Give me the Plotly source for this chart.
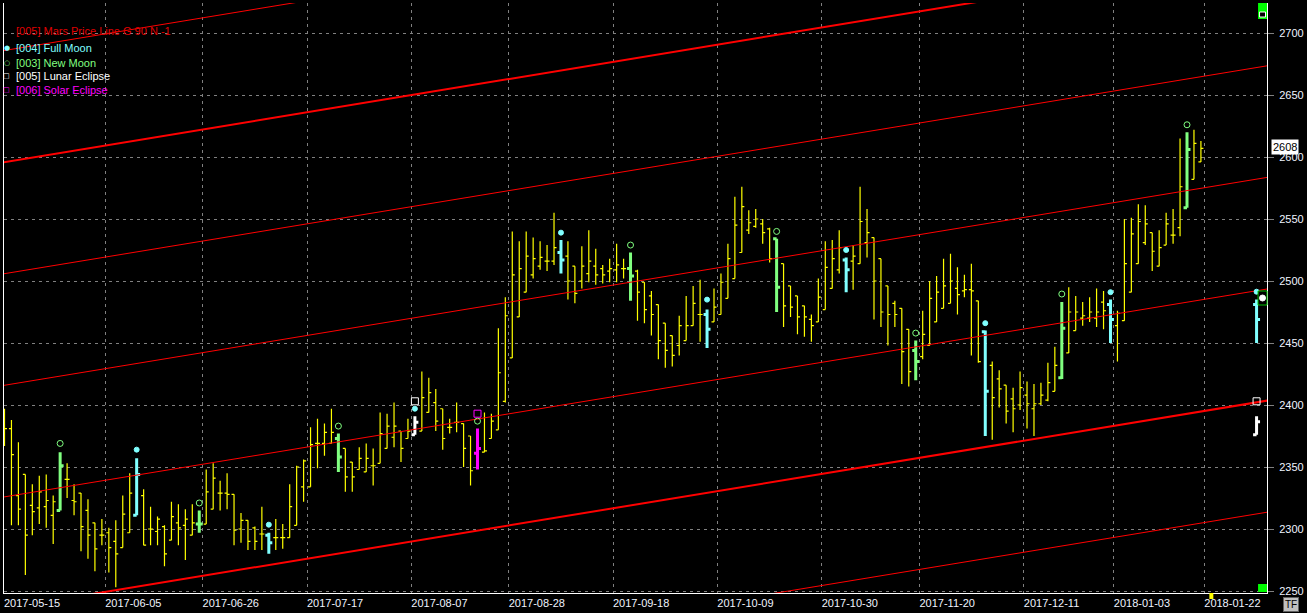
import plotly.graph_objects as go

# daily bars, index 0 = 2017-05-15
opens = [2378, 2381, 2327, 2344, 2319, 2317, 2318, 2311, 2315, 2340,
         2323, 2329, 2315, 2305, 2295, 2297, 2290, 2285, 2297, 2311,
         2327, 2300, 2298, 2302, 2291, 2305, 2303, 2295, 2304, 2304,
         2316, 2329, 2329, 2328, 2300, 2307, 2301, 2296, 2295, 2293,
         2293, 2293, 2303, 2334, 2334, 2369, 2369, 2369, 2373, 2365,
         2354, 2348, 2346, 2351, 2353, 2365, 2374, 2379, 2373, 2376,
         2379, 2394, 2402, 2397, 2382, 2386, 2385, 2375, 2361, 2362,
         2373, 2380, 2403, 2438, 2471, 2491, 2505, 2512, 2516, 2516,
         2523, 2520, 2512, 2500, 2506, 2512, 2510, 2508, 2509, 2510,
         2510, 2508, 2499, 2488, 2481, 2466, 2456, 2448, 2452, 2464,
         2473, 2473, 2467, 2473, 2486, 2502, 2523, 2541, 2544, 2546,
         2542, 2534, 2514, 2496, 2488, 2480, 2469, 2467, 2477, 2494,
         2509, 2517, 2516, 2514, 2531, 2535, 2518, 2496, 2482, 2478,
         2461, 2444, 2439, 2448, 2467, 2478, 2482, 2494, 2492, 2493,
         2484, 2459, 2432, 2421, 2416, 2405, 2400, 2408, 2397, 2401,
         2404, 2411, 2422, 2442, 2460, 2470, 2470, 2470, 2483, 2481,
         2464, 2468, 2491, 2514, 2531, 2539, 2512, 2529, 2537, 2543,
         2559, 2582, 2596]
highs = [2397, 2388, 2370, 2344, 2336, 2343, 2344, 2327, 2362, 2353,
         2336, 2329, 2324, 2305, 2308, 2301, 2307, 2327, 2345, 2357,
         2332, 2318, 2310, 2303, 2322, 2320, 2316, 2320, 2315, 2348,
         2353, 2339, 2345, 2328, 2313, 2307, 2302, 2318, 2297, 2308,
         2304, 2336, 2351, 2356, 2382, 2389, 2385, 2397, 2377, 2365,
         2354, 2366, 2369, 2365, 2394, 2393, 2402, 2379, 2389, 2391,
         2427, 2422, 2413, 2397, 2389, 2402, 2385, 2375, 2381, 2394,
         2393, 2462, 2487, 2540, 2532, 2540, 2535, 2532, 2529, 2555,
         2533, 2532, 2512, 2528, 2541, 2526, 2513, 2518, 2530, 2518,
         2523, 2509, 2499, 2492, 2481, 2466, 2456, 2472, 2488, 2496,
         2501, 2477, 2494, 2506, 2530, 2568, 2576, 2557, 2558, 2550,
         2543, 2534, 2514, 2496, 2488, 2480, 2473, 2502, 2532, 2533,
         2541, 2519, 2529, 2576, 2558, 2535, 2518, 2496, 2484, 2478,
         2461, 2452, 2476, 2500, 2504, 2518, 2522, 2511, 2505, 2514,
         2484, 2460, 2435, 2428, 2416, 2414, 2427, 2419, 2417, 2418,
         2434, 2447, 2483, 2495, 2488, 2483, 2487, 2494, 2492, 2485,
         2476, 2550, 2551, 2562, 2561, 2539, 2541, 2555, 2558, 2615,
         2620, 2622, 2613]
lows = [2367, 2303, 2303, 2263, 2295, 2304, 2301, 2288, 2315, 2325,
        2311, 2282, 2276, 2266, 2287, 2265, 2253, 2285, 2297, 2311,
        2287, 2287, 2287, 2270, 2291, 2287, 2275, 2295, 2297, 2304,
        2316, 2315, 2316, 2287, 2289, 2283, 2283, 2283, 2280, 2283,
        2284, 2293, 2303, 2322, 2334, 2349, 2359, 2369, 2346, 2330,
        2330, 2348, 2346, 2335, 2353, 2365, 2366, 2354, 2373, 2376,
        2379, 2394, 2379, 2364, 2377, 2378, 2350, 2335, 2348, 2362,
        2373, 2380, 2402, 2438, 2471, 2491, 2502, 2509, 2508, 2513,
        2506, 2485, 2482, 2494, 2499, 2497, 2498, 2499, 2499, 2502,
        2484, 2468, 2466, 2456, 2437, 2430, 2431, 2440, 2452, 2464,
        2451, 2446, 2467, 2473, 2486, 2502, 2523, 2538, 2543, 2530,
        2515, 2475, 2463, 2471, 2457, 2455, 2451, 2467, 2477, 2494,
        2506, 2491, 2493, 2514, 2519, 2469, 2463, 2448, 2463, 2417,
        2415, 2420, 2437, 2448, 2467, 2478, 2482, 2473, 2487, 2440,
        2434, 2375, 2372, 2398, 2385, 2378, 2396, 2381, 2375, 2400,
        2403, 2411, 2421, 2442, 2460, 2464, 2467, 2463, 2461, 2450,
        2435, 2468, 2491, 2514, 2529, 2508, 2512, 2529, 2530, 2536,
        2559, 2582, 2596]
closes = [2381, 2360, 2316, 2295, 2314, 2330, 2323, 2322, 2351, 2340,
          2322, 2302, 2295, 2284, 2295, 2285, 2280, 2312, 2329, 2344,
          2287, 2300, 2308, 2280, 2310, 2301, 2308, 2305, 2304, 2330,
          2341, 2329, 2328, 2299, 2307, 2290, 2290, 2296, 2289, 2293,
          2293, 2318, 2350, 2355, 2368, 2369, 2378, 2378, 2358, 2342,
          2342, 2357, 2357, 2351, 2377, 2383, 2383, 2365, 2379, 2386,
          2406, 2410, 2387, 2373, 2382, 2386, 2365, 2347, 2365, 2363,
          2387, 2426, 2472, 2505, 2510, 2520, 2518, 2519, 2516, 2527,
          2517, 2500, 2490, 2512, 2516, 2505, 2505, 2510, 2513, 2510,
          2504, 2491, 2477, 2473, 2452, 2444, 2440, 2464, 2464, 2482,
          2473, 2461, 2479, 2499, 2518, 2545, 2560, 2547, 2550, 2539,
          2518, 2495, 2480, 2479, 2471, 2471, 2464, 2487, 2511, 2518,
          2527, 2509, 2520, 2548, 2539, 2500, 2475, 2473, 2473, 2443,
          2427, 2435, 2457, 2486, 2491, 2496, 2500, 2489, 2493, 2492,
          2435, 2411, 2406, 2413, 2395, 2397, 2414, 2401, 2401, 2408,
          2418, 2432, 2462, 2475, 2475, 2472, 2475, 2475, 2476, 2469,
          2474, 2514, 2538, 2548, 2546, 2524, 2527, 2546, 2537, 2576,
          2606, 2611, 2607]

full_moon_bars = [19, 38, 80, 101, 121, 141, 159]
new_moon_bars = [8, 28, 48, 90, 111, 131, 152, 170]
lunar_eclipse_bars = [59]
solar_eclipse_bars = [68]

full_moon_dot = [2364, 2303.5, 2539, 2485, 2525, 2466, 2491]
new_moon_ring = [2369, 2321, 2383, 2529, 2540, 2458, 2489.5, 2626]
lunar_dot = [2397]
lunar_box = [2403]
solar_ring = [2387]
solar_box = [2393]

# projected markers to the right of the last bar
proj_x = [180]
proj_full_ohlc = [2481, 2485, 2450, 2469]
proj_full_dot = [2491.4]
proj_lunar_ohlc = [2376, 2391, 2376, 2386.5]
proj_lunar_box = [2403]

# Mars price lines (G 90), values at x = -1 and x = 182
mars_x = [-1, 182]
mars_left = [2145, 2235, 2325, 2415, 2505, 2595, 2685]
mars_right = [2314, 2404, 2494, 2584, 2674, 2764, 2854]
mars_thick = [False, True, False, False, False, True, False]

last_price = 2608

tick_pos = [-0.06, 14.5, 28.5, 43.5, 58.5, 72.5, 87.5, 102.5, 117.5, 131.5, 146.5, 159.5, 172.5]
tick_text = ['2017-05-15', '2017-06-05', '2017-06-26', '2017-07-17', '2017-08-07', '2017-08-28',
             '2017-09-18', '2017-10-09', '2017-10-30', '2017-11-20', '2017-12-11', '2018-01-03',
             '2018-01-22']

YELLOW = '#ffff00'
CYAN = '#80ffff'
GREEN = '#80ff80'
MAGENTA = '#ff00ff'
GRID = '#808080'
FONT = 'Liberation Sans'

W, H = 1307, 613
ML, MR, MT, MB = 3, 33, 3, 20
X0 = -0.5 / 7  # bar centres on half pixels


def px_x(px):
		return (px - ML) / (W - ML - MR)


def px_y(py):
		return 1 - (py - MT) / (H - MT - MB)


special = set(full_moon_bars + new_moon_bars + lunar_eclipse_bars + solar_eclipse_bars)
idx = list(range(len(opens)))


def masked(vals):
		return [None if i in special else v for i, v in enumerate(vals)]


def pick(vals, bars):
		return [vals[i] for i in bars]


fig = go.Figure()

for thick in (False, True):
		xs, ys = [], []
		for l, r, t in zip(mars_left, mars_right, mars_thick):
				if t == thick:
						xs += mars_x + [None]
						ys += [l, r, None]
		fig.add_trace(go.Scatter(x=xs, y=ys, mode='lines', line=dict(color='#ff0000', width=2 if thick else 1),
														 hoverinfo='skip', showlegend=False))


def ohlc(x, o, h, l, c, color, width, tw):
		return go.Ohlc(x=x, open=o, high=h, low=l, close=c, tickwidth=tw,
									 increasing=dict(line=dict(color=color, width=width)),
									 decreasing=dict(line=dict(color=color, width=width)),
									 hoverinfo='skip', showlegend=False)


fig.add_trace(ohlc(idx, masked(opens), masked(highs), masked(lows), masked(closes), YELLOW, 1.2, 0.36))

groups = [(full_moon_bars, CYAN), (new_moon_bars, GREEN), (lunar_eclipse_bars, '#ffffff'), (solar_eclipse_bars, MAGENTA)]
for bars, color in groups:
		fig.add_trace(ohlc(bars, pick(opens, bars), pick(highs, bars), pick(lows, bars), pick(closes, bars), color, 3, 0.5))

o, h, l, c = proj_full_ohlc
fig.add_trace(ohlc(proj_x, [o], [h], [l], [c], CYAN, 3, 0.5))
o, h, l, c = proj_lunar_ohlc
fig.add_trace(ohlc(proj_x, [o], [h], [l], [c], '#ffffff', 3, 0.5))


def markers(x, y, symbol, color, size):
		return go.Scatter(x=x, y=y, mode='markers', hoverinfo='skip', showlegend=False,
											marker=dict(symbol=symbol, size=size, color=color, line=dict(color=color, width=1)))


fig.add_trace(markers(full_moon_bars, full_moon_dot, 'circle', CYAN, 5))
fig.add_trace(markers(new_moon_bars, new_moon_ring, 'circle-open', GREEN, 6))
fig.add_trace(markers(lunar_eclipse_bars, lunar_dot, 'circle', CYAN, 5))
fig.add_trace(markers(lunar_eclipse_bars, lunar_box, 'square-open', '#ffffff', 7))
fig.add_trace(markers(solar_eclipse_bars, solar_ring, 'circle-open', GREEN, 6))
fig.add_trace(markers(solar_eclipse_bars, solar_box, 'square-open', MAGENTA, 7))
fig.add_trace(markers(proj_x, proj_full_dot, 'circle', CYAN, 5))
fig.add_trace(markers(proj_x, proj_lunar_box, 'square-open', '#ffffff', 7))

# legend text, top left
legend = [('[005] Mars Price Line G 90 N -1', '#e00000', '', 31),
					('[004] Full Moon', CYAN, '●', 48),
					('[003] New Moon', GREEN, '○', 62.5),
					('[005] Lunar Eclipse', '#ffffff', '□', 76),
					('[006] Solar Eclipse', MAGENTA, '□', 90)]
annotations = []
for text, color, sym, py in legend:
		annotations.append(dict(xref='paper', yref='paper', x=px_x(13), y=px_y(py), text=text, showarrow=False,
														xanchor='left', yanchor='middle', font=dict(family=FONT, size=11, color=color)))
		if sym:
				annotations.append(dict(xref='paper', yref='paper', x=px_x(6), y=px_y(py), text=sym, showarrow=False,
																xanchor='center', yanchor='middle', font=dict(family='DejaVu Sans', size=7, color=color)))

annotations.append(dict(xref='paper', yref='y', x=1, y=last_price, text=str(last_price), showarrow=False,
												xanchor='left', yanchor='middle', xshift=4, bgcolor='#ffffff', borderpad=1,
												font=dict(family=FONT, size=11, color='#000000')))
annotations.append(dict(xref='paper', yref='paper', x=px_x(1298), y=px_y(605), text='TF', showarrow=False,
												xanchor='center', yanchor='middle', bgcolor='#c0c0c0', bordercolor='#606060',
												borderwidth=1, borderpad=1, font=dict(family=FONT, size=10, color='#000000')))

shapes = [
		dict(type='rect', xref='paper', yref='paper', x0=px_x(1265), x1=px_x(1274), y0=px_y(3), y1=px_y(19),
				 fillcolor='#00ff00', line=dict(width=0)),
		dict(type='rect', xref='paper', yref='paper', x0=px_x(1266.5), x1=px_x(1272.5), y0=px_y(12), y1=px_y(17),
				 fillcolor='#000000', line=dict(color='#ffffff', width=1)),
		dict(type='rect', xref='paper', yref='paper', x0=px_x(1265), x1=px_x(1274), y0=px_y(584), y1=px_y(592),
				 fillcolor='#00ff00', line=dict(width=0)),
		dict(type='rect', xref='paper', yref='paper', x0=px_x(1265), x1=px_x(1274), y0=px_y(291), y1=px_y(305),
				 fillcolor='#000000', line=dict(color='#00c000', width=1)),
		dict(type='circle', xref='paper', yref='paper', x0=px_x(1266.5), x1=px_x(1272.5), y0=px_y(295), y1=px_y(301),
				 fillcolor='#ffffff', line=dict(color='#ffffff', width=1)),
		dict(type='rect', xref='paper', yref='paper', x0=px_x(1216), x1=px_x(1220), y0=px_y(593), y1=px_y(599),
				 fillcolor=YELLOW, line=dict(width=0)),
]

fig.update_layout(
		width=W, height=H,
		margin=dict(l=ML, r=MR, t=MT, b=MB),
		paper_bgcolor='#000000', plot_bgcolor='#000000',
		font=dict(family=FONT, size=11, color='#ffffff'),
		annotations=annotations, shapes=shapes,
		xaxis=dict(range=[X0, X0 + (W - ML - MR) / 7], rangeslider=dict(visible=False), tickmode='array',
							 tickvals=tick_pos, ticktext=tick_text, ticklabelshift=28, ticks='',
							 showgrid=True, gridcolor=GRID, griddash='3px,4px', gridwidth=1,
							 showline=True, linecolor='#ffffff', linewidth=1, zeroline=False,
							 tickfont=dict(family=FONT, size=11, color='#f0f4ff')),
		yaxis=dict(side='right', range=[2248.4, 2724.2], tickmode='array',
							 tickvals=[2250, 2300, 2350, 2400, 2450, 2500, 2550, 2600, 2650, 2700],
							 ticks='outside', ticklen=6, tickcolor=GRID, tickwidth=1, ticklabelstandoff=3,
							 showgrid=True, gridcolor=GRID, griddash='3px,4px', gridwidth=1,
							 showline=True, mirror=True, linecolor='#ffffff', linewidth=1, zeroline=False,
							 tickfont=dict(family=FONT, size=11, color='#f0f4ff')),
)

fig.write_html("out.html", config={'displayModeBar': False},
							 post_script="document.body.style.margin='0';document.body.style.background='#000';")
